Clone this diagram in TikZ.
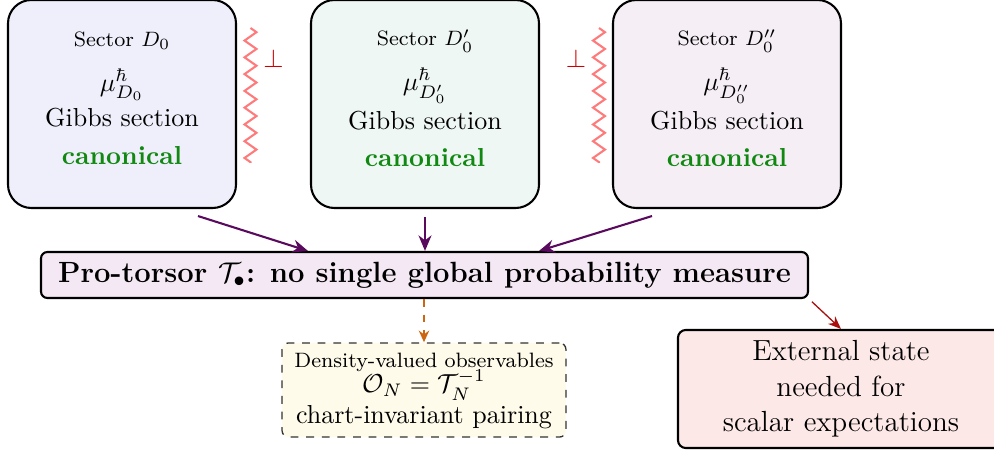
\documentclass[tikz,border=0pt]{standalone}
\usepackage{amsmath}
\usetikzlibrary{arrows.meta,decorations.pathmorphing,calc}
\definecolor{fillA}{HTML}{EFEFFB}
\definecolor{fillB}{HTML}{EEF7F3}
\definecolor{fillC}{HTML}{F5EEF5}
\definecolor{fillBar}{HTML}{F3E8F3}
\definecolor{fillDens}{HTML}{FEFBEA}
\definecolor{fillExt}{HTML}{FDE8E8}
\definecolor{canon}{HTML}{118811}
\definecolor{arrpurple}{HTML}{5A0A5E}
\definecolor{zzred}{HTML}{FF7A7A}
\definecolor{perpred}{HTML}{CC0000}
\definecolor{dashorange}{HTML}{CC6611}
\definecolor{extred}{HTML}{A80F0F}
\begin{document}
\begin{tikzpicture}[x=0.384615pt,y=-0.384615pt,
  sector/.style={draw=black, line width=0.8pt, rounded corners=9pt,
    minimum width=87.7pt, minimum height=80pt, inner sep=0pt},
  sectortext/.style={align=center, font=\normalsize, inner sep=0pt},
  barbox/.style={draw=black, line width=0.8pt, rounded corners=2.5pt, fill=fillBar,
    minimum width=295pt, minimum height=17.7pt, inner sep=0pt,
    font=\fontsize{11.25}{13.5}\selectfont\bfseries},
  densbox/.style={draw=black!80, dashed, line width=0.5pt, rounded corners=2.5pt, fill=fillDens,
    minimum width=109.2pt, minimum height=36.2pt, inner sep=0pt},
  denstext/.style={align=center, font=\normalsize, inner sep=0pt},
  extbox/.style={draw=black, line width=0.8pt, rounded corners=3pt, fill=fillExt,
    minimum width=125.4pt, minimum height=45.4pt, inner sep=0pt, align=center,
    font=\fontsize{11.2}{13.6}\selectfont},
  zz/.style={draw=zzred, line width=0.8pt, decorate,
    decoration={zigzag, segment length=6.45pt, amplitude=2.3pt}},
  perp/.style={text=perpred, inner sep=0pt, font=\normalsize},
  arr/.style={draw=arrpurple, line width=0.8pt, -{Stealth[length=6pt,width=5pt]}},
  dasharr/.style={draw=dashorange, line width=0.6pt, dashed, -{Stealth[length=4.5pt,width=4pt]}},
  extarr/.style={draw=extred, line width=0.5pt, -{Stealth[length=5pt,width=4pt]}}
]
\useasboundingbox (0,0) rectangle (994,457);

% sector boxes
\node[sector, fill=fillA] (d0) at (122,104) {};
\node[sector, fill=fillB] (d1) at (425,104) {};
\node[sector, fill=fillC] (d2) at (727,104) {};

\node[sectortext] (d0t) at (122,98.5) {{\footnotesize Sector $D_0$}\\[5pt]
  $\mu^{\hbar}_{D_0}$\\[1.6pt] Gibbs section\\[2.6pt] {\color{canon}\bfseries canonical}};
\node[sectortext] (d1t) at (425,98.5) {{\footnotesize Sector $D_0'$}\\[5pt]
  $\mu^{\hbar}_{D_0'}$\\[1.6pt] Gibbs section\\[2.6pt] {\color{canon}\bfseries canonical}};
\node[sectortext] (d2t) at (727,98.5) {{\footnotesize Sector $D_0''$}\\[5pt]
  $\mu^{\hbar}_{D_0''}$\\[1.6pt] Gibbs section\\[2.6pt] {\color{canon}\bfseries canonical}};

% incompatibility zigzags
\coordinate (zA1) at (250.5,28);
\coordinate (zA2) at (250.5,163);
\coordinate (zB1) at (599,28);
\coordinate (zB2) at (599,163);
\draw[zz] (zA1) -- (zA2);
\draw[zz] (zB1) -- (zB2);
\node[perp] (p1) at (273.5,58) {$\perp$};
\node[perp] (p2) at (576,58) {$\perp$};

% pro-torsor bar
\node[barbox] (bar) at (424.5,275) {Pro-torsor $\mathcal{T}_\bullet$: no single global probability measure};

% lower boxes
\node[densbox] (dens) at (424,390) {};
\node[denstext] (denst) at (424,391) {{\footnotesize Density-valued observables}\\[-2.3pt]
  $\mathcal{O}_N=\mathcal{T}_N^{-1}$\\ chart-invariant pairing};
\node[extbox] (ext) at (841,389) {External state\\ needed for\\ scalar expectations};

% connectors
\draw[arr] ($(d0.south)+(76,7)$) -- ($(bar.north)+(-116.5,0)$);
\draw[arr] ($(d1.south)+(0,8)$) -- (d1.south |- bar.north);
\draw[arr] ($(d2.south)+(-75,7)$) -- ($(bar.north)+(114.5,0)$);
\draw[dasharr] (bar.south -| dens.north) -- (dens.north);
\draw[extarr, shorten <=1.5pt] (bar.south east) -- (ext.north);
\end{tikzpicture}
\end{document}
